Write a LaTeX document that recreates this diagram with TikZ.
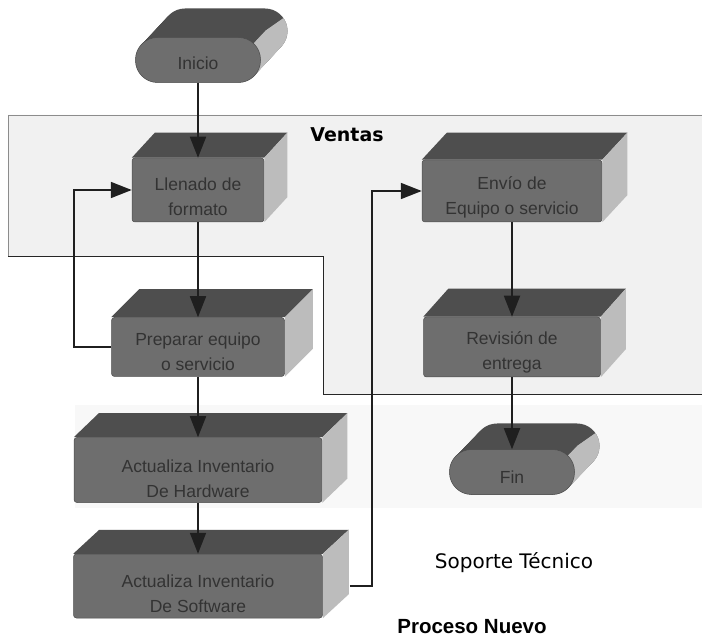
\documentclass[tikz,border=0pt]{standalone}
\usepackage{fontspec}
\setmainfont{Liberation Sans}
\newfontfamily\djv{DejaVu Sans}
\usetikzlibrary{arrows.meta}
\definecolor{frontc}{HTML}{6E6E6E}
\definecolor{topc}{HTML}{4E4E4E}
\definecolor{sidec}{HTML}{BCBCBC}
\definecolor{txtc}{HTML}{333333}
\definecolor{lanec}{HTML}{F1F1F1}
\definecolor{bandc}{HTML}{F8F8F8}

% extruded faces of a box whose front face is node #1
\newcommand\cuboidfaces[3]{%
  \fill[topc] (#1.north west) -- ++(#2,-#3) -- ([shift={(#2,-#3)}]#1.north east) -- (#1.north east) -- cycle;
  \fill[sidec] (#1.north east) -- ++(#2,-#3) -- ([shift={(#2,-#3)}]#1.south east) -- (#1.south east) -- cycle;
}
% extrusion of a terminal (stadium) : cx cy w h dx dy
\newcommand\stadext[6]{%
  \pgfmathsetmacro\sR{#4/2}%
  \pgfmathsetmacro\sLx{#1-#3/2+#4/2}%
  \pgfmathsetmacro\sRx{#1+#3/2-#4/2}%
  \foreach \i in {24,...,0}{%
    \begin{scope}[shift={(\i*#5/24,-\i*#6/24)}]
      \fill[topc] plot[domain=90:270,samples=19] ({\sLx+\sR*cos(\x)},{#2+\sR*sin(\x)})
        -- plot[domain=-90:90,samples=19] ({\sRx+\sR*cos(\x)},{#2+\sR*sin(\x)}) -- cycle;
    \end{scope}}%
  \foreach \i in {24,...,0}{%
    \begin{scope}[shift={(\i*#5/24,-\i*#6/24)}]
      \fill[sidec] ({\sRx},{#2}) -- plot[domain=-35:90,samples=15] ({\sRx+\sR*cos(\x)},{#2+\sR*sin(\x)}) -- cycle;
    \end{scope}}%
}

\tikzset{
  front/.style={draw=black!70, line width=0.5pt, fill=frontc, rounded corners=3pt, inner sep=0pt},
  term/.style={front, rounded corners=22pt},
  boxtxt/.style={font=\fontsize{17.5}{25}\selectfont, text=txtc, align=center, inner sep=0pt},
  arr/.style={draw=black!88, line width=1.8pt, -{Triangle[length=21pt,width=16pt]}},
  lanetop/.style={draw=black!45, line width=0.8pt},
  lanebot/.style={draw=black!85, line width=1pt},
}

\begin{document}
\begin{tikzpicture}[x=1pt,y=-1pt]
\useasboundingbox (0,0) rectangle (702,636);
\fill[white] (0,0) rectangle (702,636);

% background bands and lane
\fill[bandc] (75,405) rectangle (702,508);
\fill[lanec] (8,115) -- (702,115) -- (702,395) -- (323,395) -- (323,257) -- (8,257) -- cycle;
\draw[lanetop] (8,257) -- (8,115) -- (702,115);
\draw[lanebot] (8,257) -- (323,257) -- (323,395) -- (702,395);

% Inicio
\stadext{198}{60}{125}{45}{27}{29}
\node[term, minimum width=125pt, minimum height=45pt] (inicio) at (198,60) {};
\node[boxtxt] (inicioT) at ([yshift=-3pt]inicio.center) {Inicio};

% Llenado de formato
\node[front, minimum width=132pt, minimum height=64pt] (llenado) at (198,190) {};
\cuboidfaces{llenado}{23}{25}
\node[boxtxt] (llenadoT) at ([yshift=-7pt]llenado.center) {Llenado de\\formato};

% Preparar equipo
\node[front, minimum width=173pt, minimum height=59pt] (preparar) at (198,347) {};
\cuboidfaces{preparar}{28}{28}
\node[boxtxt] (prepararT) at ([yshift=-5pt]preparar.center) {Preparar equipo\\o servicio};

% Hardware
\node[front, minimum width=248pt, minimum height=65pt] (hardware) at (198,470) {};
\cuboidfaces{hardware}{25}{24}
\node[boxtxt] (hardwareT) at ([yshift=-9pt]hardware.center) {Actualiza Inventario\\De Hardware};

% Software
\node[front, minimum width=249pt, minimum height=64pt] (software) at (198,586) {};
\cuboidfaces{software}{26}{24}
\node[boxtxt] (softwareT) at ([yshift=-8pt]software.center) {Actualiza Inventario\\De Software};

% Envio
\node[front, minimum width=180pt, minimum height=62pt] (envio) at (512,191) {};
\cuboidfaces{envio}{25}{27}
\node[boxtxt] (envioT) at ([yshift=-6pt]envio.center) {Envío de\\Equipo o servicio};

% Revision
\node[front, minimum width=177pt, minimum height=60pt] (revision) at (512,347) {};
\cuboidfaces{revision}{25}{28}
\node[boxtxt] (revisionT) at ([yshift=-5pt]revision.center) {Revisión de\\entrega};

% Fin
\stadext{512}{472}{125}{45}{25}{26}
\node[term, minimum width=125pt, minimum height=45pt] (fin) at (512,472) {};
\node[boxtxt] (finT) at ([yshift=-5pt]fin.center) {Fin};

% connectors
\draw[arr] (inicio.south) -- (llenado.north);
\draw[arr] (llenado.south) -- (preparar.north);
\draw[arr] (preparar.south) -- (hardware.north);
\draw[arr] (hardware.south) -- (software.north);
\draw[arr] (preparar.west) -- ++(-37,0) |- (llenado.west);
\coordinate (swout) at ([xshift=27pt]software.east);
\draw[arr] (swout) -- ++(22,0) |- (envio.west);
\draw[arr] (envio.south) -- (revision.north);
\draw[arr] (revision.south) -- (fin.north);

% labels
\node[font=\djv\bfseries\fontsize{19}{22}\selectfont, anchor=base, inner sep=0pt] (ventas) at (347,142) {Ventas};
\node[font=\djv\fontsize{20}{24}\selectfont, anchor=base, inner sep=0pt] (soporte) at (514,568) {Soporte Técnico};
\node[font=\bfseries\fontsize{20.5}{24}\selectfont, anchor=base, inner sep=0pt] (proceso) at (472,633) {Proceso Nuevo};
\end{tikzpicture}
\end{document}
